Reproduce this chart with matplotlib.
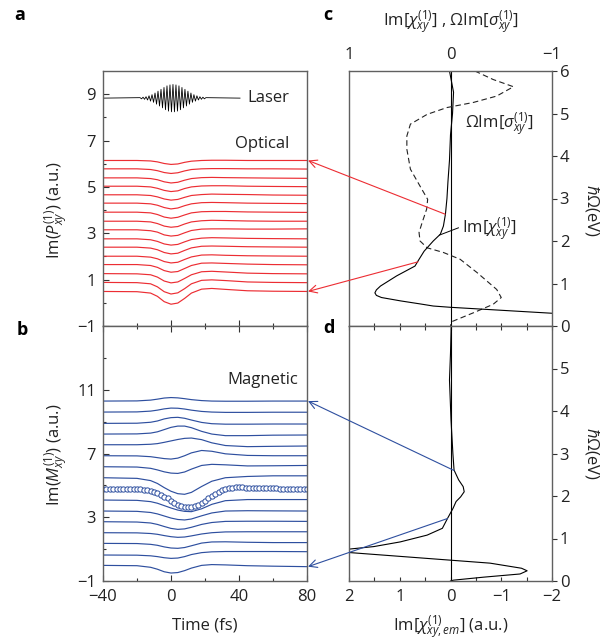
import numpy as np
import matplotlib
matplotlib.use('Agg')
import matplotlib.pyplot as plt
from matplotlib.patches import ConnectionPatch

plt.rcParams['font.family'] = ['Open Sans', 'DejaVu Sans']
plt.rcParams['mathtext.fontset'] = 'custom'
plt.rcParams['mathtext.rm'] = 'Open Sans'
plt.rcParams['mathtext.it'] = 'Open Sans:italic'
plt.rcParams['mathtext.bf'] = 'Open Sans:bold'

# ---- time traces (panels a, b) ----
t_grid = [-40, -20, -12, -8, -4, 0, 4, 8, 12, 18, 24, 32, 45, 60, 80]

red_base = [6.14, 5.78, 5.39, 5.03, 4.66, 4.30, 3.91, 3.52, 3.15, 2.76, 2.40, 2.01, 1.65, 1.26, 0.88, 0.49]
red_offsets = [
    [0, 0, -0.02, -0.06, -0.13, -0.17, -0.15, -0.08, -0.03, 0.00, 0.01, 0.01, 0.00, 0.00, 0.00],
    [0, 0, -0.03, -0.08, -0.16, -0.20, -0.17, -0.09, -0.03, 0.00, 0.01, 0.01, 0.00, 0.00, -0.01],
    [0, 0, -0.03, -0.08, -0.17, -0.22, -0.19, -0.10, -0.03, 0.01, 0.02, 0.01, 0.00, -0.01, -0.02],
    [0, 0, -0.03, -0.09, -0.18, -0.23, -0.20, -0.10, -0.03, 0.01, 0.02, 0.02, 0.00, -0.01, -0.02],
    [0, 0, -0.03, -0.09, -0.18, -0.23, -0.20, -0.11, -0.03, 0.01, 0.03, 0.02, 0.01, -0.01, -0.02],
    [0, 0, -0.03, -0.09, -0.19, -0.25, -0.21, -0.11, -0.03, 0.02, 0.03, 0.02, 0.00, -0.01, -0.02],
    [0, 0, -0.03, -0.10, -0.21, -0.26, -0.22, -0.12, -0.03, 0.02, 0.03, 0.03, 0.01, 0.00, -0.01],
    [0, 0, -0.03, -0.10, -0.21, -0.26, -0.23, -0.12, -0.03, 0.02, 0.04, 0.03, 0.01, 0.00, 0.00],
    [0, 0, -0.04, -0.10, -0.22, -0.27, -0.24, -0.13, -0.03, 0.03, 0.04, 0.04, 0.03, 0.03, 0.04],
    [0, 0, -0.04, -0.11, -0.22, -0.27, -0.24, -0.13, -0.03, 0.03, 0.05, 0.04, 0.02, 0.01, 0.00],
    [0, 0, -0.04, -0.11, -0.23, -0.29, -0.26, -0.14, -0.03, 0.04, 0.05, 0.04, 0.02, 0.01, 0.00],
    [0, 0, -0.04, -0.11, -0.23, -0.29, -0.26, -0.14, -0.03, 0.05, 0.06, 0.04, 0.02, 0.01, 0.00],
    [0, 0, -0.04, -0.12, -0.26, -0.33, -0.30, -0.17, -0.04, 0.06, 0.07, 0.05, 0.02, 0.00, -0.01],
    [0, -0.01, -0.05, -0.15, -0.32, -0.40, -0.36, -0.21, -0.05, 0.08, 0.10, 0.07, 0.02, 0.00, -0.01],
    [0, -0.01, -0.06, -0.19, -0.40, -0.50, -0.45, -0.27, -0.06, 0.09, 0.11, 0.08, 0.02, 0.00, -0.01],
    [0, -0.01, -0.07, -0.21, -0.44, -0.55, -0.50, -0.30, -0.07, 0.10, 0.13, 0.09, 0.03, 0.01, 0.00],
]

blue_base = [10.29, 9.60, 8.89, 8.22, 7.55, 6.86, 6.17, 5.48, 4.08, 3.39, 2.72, 2.03, 1.36, 0.63, -0.02]
blue_offsets = [
    [0, 0.01, 0.06, 0.12, 0.19, 0.22, 0.20, 0.15, 0.09, 0.03, 0.00, -0.01, -0.01, 0.00, 0.00],
    [0, 0.01, 0.06, 0.12, 0.20, 0.25, 0.24, 0.19, 0.12, 0.04, 0.00, -0.02, -0.02, -0.01, -0.01],
    [0, 0.01, 0.07, 0.15, 0.28, 0.36, 0.38, 0.32, 0.21, 0.06, -0.02, -0.05, -0.05, -0.04, -0.04],
    [0, 0.01, 0.06, 0.14, 0.28, 0.42, 0.50, 0.50, 0.40, 0.17, 0.00, -0.10, -0.10, -0.07, -0.06],
    [0, 0.00, 0.03, 0.07, 0.15, 0.24, 0.33, 0.40, 0.42, 0.32, 0.12, -0.05, -0.12, -0.10, -0.08],
    [0, -0.01, -0.06, -0.12, -0.18, -0.21, -0.15, 0.00, 0.18, 0.33, 0.28, 0.12, 0.02, 0.00, 0.00],
    [0, -0.02, -0.10, -0.20, -0.32, -0.40, -0.42, -0.33, -0.15, 0.08, 0.15, 0.12, 0.05, 0.06, 0.08],
    [0, -0.04, -0.18, -0.36, -0.62, -0.85, -1.00, -1.04, -0.92, -0.55, -0.22, 0.00, 0.08, 0.12, 0.12],
    [0, -0.02, -0.10, -0.20, -0.35, -0.50, -0.63, -0.71, -0.73, -0.55, -0.27, -0.04, 0.03, 0.03, 0.03],
    [0, -0.02, -0.09, -0.18, -0.31, -0.44, -0.53, -0.56, -0.50, -0.30, -0.12, 0.00, 0.02, 0.01, 0.00],
    [0, -0.02, -0.08, -0.17, -0.30, -0.42, -0.48, -0.45, -0.35, -0.17, -0.05, 0.02, 0.03, 0.03, 0.02],
    [0, -0.01, -0.05, -0.10, -0.18, -0.25, -0.29, -0.27, -0.20, -0.08, 0.00, 0.05, 0.06, 0.06, 0.06],
    [0, -0.01, -0.06, -0.12, -0.22, -0.29, -0.31, -0.26, -0.15, 0.02, 0.09, 0.10, 0.07, 0.05, 0.05],
    [0, -0.01, -0.05, -0.10, -0.17, -0.21, -0.19, -0.10, 0.03, 0.15, 0.20, 0.22, 0.22, 0.22, 0.21],
    [0, -0.02, -0.12, -0.24, -0.40, -0.48, -0.45, -0.33, -0.17, 0.00, 0.05, 0.03, -0.02, -0.05, -0.08],
]

# open-circle trace, every 2 fs from -40 to 80
circ_t = list(range(-40, 81, 2))
circ_y = [4.77] * 11 + [
    4.76, 4.74, 4.71, 4.66, 4.59, 4.51, 4.41, 4.30, 4.18, 4.05, 3.92, 3.80, 3.70, 3.64, 3.62,
    3.64, 3.70, 3.79, 3.91, 4.05, 4.20, 4.35, 4.49, 4.61, 4.71, 4.78, 4.83, 4.86, 4.87, 4.87,
    4.87, 4.86, 4.85, 4.84, 4.83] + [4.82, 4.82, 4.82, 4.81, 4.81, 4.81, 4.80, 4.80, 4.80,
    4.80, 4.80, 4.80, 4.80, 4.80, 4.80]

# laser pulse: signed peak amplitudes, one per half cycle
laser_base = 8.83
laser_peaks = [0.02, -0.03, 0.04, -0.05, 0.06, -0.08, 0.10, -0.13, 0.15, -0.18, 0.22, -0.26,
               0.30, -0.34, 0.38, -0.42, 0.46, -0.50, 0.53, -0.56, 0.57, -0.59, 0.59, -0.59,
               0.57, -0.56, 0.53, -0.50, 0.46, -0.42, 0.38, -0.34, 0.30, -0.26, 0.22, -0.18,
               0.15, -0.13, 0.10, -0.08, 0.06, -0.05, 0.04, -0.03, 0.02]
laser_start, laser_half_period = -18.2, 0.88

# ---- spectra (panels c, d) ----
chi_c_ev = [6.0, 5.5, 5.0, 4.5, 3.9, 3.4, 3.0, 2.63, 2.35, 2.16, 2.0, 1.76, 1.53, 1.41, 1.18,
            0.94, 0.85, 0.78, 0.72, 0.67, 0.59, 0.52, 0.47, 0.44, 0.37, 0.30, 0.20]
chi_c_val = [0.01, -0.03, -0.02, 0.0, 0.01, 0.025, 0.035, 0.05, 0.07, 0.10, 0.17, 0.26, 0.32, 0.35,
             0.53, 0.69, 0.73, 0.745, 0.73, 0.68, 0.49, 0.30, 0.17, 0.0, -0.5, -1.0, -1.7]

sig_c_ev = [6.0, 5.8, 5.63, 5.41, 5.26, 5.14, 4.98, 4.75, 4.47, 4.16, 3.69, 3.29, 2.98, 2.75,
            2.43, 2.2, 2.0, 1.84, 1.73, 1.57, 1.26, 0.86, 0.67, 0.51, 0.31, 0.1, 0.0]
sig_c_val = [-0.24, -0.42, -0.62, -0.455, -0.225, 0.035, 0.23, 0.395, 0.43, 0.43, 0.395, 0.30,
             0.225, 0.235, 0.28, 0.31, 0.30, 0.23, 0.07, -0.095, -0.26, -0.455, -0.50, -0.42,
             -0.225, -0.01, 0.0]

chi_d_ev = [6.0, 5.36, 4.73, 3.79, 3.0, 2.61, 2.38, 2.22, 2.10, 1.98, 1.87, 1.71, 1.47, 1.24,
            1.08, 0.92, 0.81, 0.75, 0.71, 0.67, 0.58, 0.49, 0.42, 0.30, 0.24, 0.165, 0.09, 0.02, 0.0]
chi_d_val = [-0.014, 0.0, 0.02, -0.01, -0.047, -0.07, -0.16, -0.25, -0.27, -0.2, -0.11, -0.05,
             0.06, 0.16, 0.46, 0.99, 1.51, 2.0, 2.6, 2.0, 1.0, 0.0, -0.78, -1.4, -1.51, -1.37,
             -0.65, -0.06, 0.0]

RED = '#ec2d33'
BLUE = '#2e4f9f'
SPINE = '#606060'

fig = plt.figure(figsize=(6.14, 6.40), dpi=100)
W, H = 614, 640


def box(l, t, r, b):
    return [l / W, 1 - b / H, (r - l) / W, (b - t) / H]


ax_a = fig.add_axes(box(103, 71, 307, 326))
ax_b = fig.add_axes(box(103, 326, 307, 581))
ax_c = fig.add_axes(box(349, 71, 552, 326))
ax_d = fig.add_axes(box(349, 326, 552, 581))

for ax in (ax_a, ax_b, ax_c, ax_d):
    for s in ax.spines.values():
        s.set_color(SPINE)
        s.set_linewidth(1.0)
    ax.tick_params(which='both', color='#333333', width=0.8, labelsize=12,
                   labelcolor='#222222')

# panel a
ax_a.plot([-40] + [laser_start + laser_half_period * k for k in range(len(laser_peaks))] + [40.6],
          [laser_base] + [laser_base + p for p in laser_peaks] + [laser_base],
          color='black', lw=0.6)
for b0, off in zip(red_base, red_offsets):
    ax_a.plot(t_grid, [b0 + o for o in off], color=RED, lw=0.85)
ax_a.set_xlim(-40, 80)
ax_a.set_ylim(-1, 10)
ax_a.set_yticks([-1, 1, 3, 5, 7, 9])
ax_a.set_yticks([0, 2, 4, 6, 8], minor=True)
ax_a.set_yticklabels(['\u22121', '1', '3', '5', '7', '9'])
ax_a.set_xticks([-40, 0, 40, 80])
ax_a.set_xticks([-20, 20, 60], minor=True)
ax_a.tick_params(axis='x', which='both', direction='in', labelbottom=False)
ax_a.tick_params(axis='y', which='both', direction='in', pad=5)
ax_a.tick_params(which='major', length=4.5)
ax_a.tick_params(which='minor', length=2.5)
ax_a.text(45, 8.85, 'Laser', fontsize=12, va='center', ha='left', color='#222222')
ax_a.text(37.6, 6.83, 'Optical', fontsize=12, va='center', ha='left', color='#222222')

# panel b
for b0, off in zip(blue_base, blue_offsets):
    ax_b.plot(t_grid, [b0 + o for o in off], color=BLUE, lw=0.85)
ax_b.plot(circ_t, circ_y, ls='none', marker='o', ms=3.8, mfc='white', mec=BLUE, mew=0.7)
ax_b.set_xlim(-40, 80)
ax_b.set_ylim(-1, 15)
ax_b.set_yticks([-1, 3, 7, 11])
ax_b.set_yticks([1, 5, 9, 13], minor=True)
ax_b.set_yticklabels(['\u22121', '3', '7', '11'])
ax_b.set_xticks([-40, 0, 40, 80])
ax_b.set_xticks([-20, 20, 60], minor=True)
ax_b.set_xticklabels(['\u221240', '0', '40', '80'])
ax_b.tick_params(axis='x', which='both', direction='in', top=True, pad=6)
ax_b.tick_params(axis='y', which='both', direction='in', pad=5)
ax_b.tick_params(which='major', length=4.5)
ax_b.tick_params(which='minor', length=2.5)
ax_b.text(33, 11.6, 'Magnetic', fontsize=12, va='center', ha='left', color='#222222')

# panel c
ax_c.axvline(0, color='black', lw=0.8)
ax_c.plot(sig_c_val, sig_c_ev, color='#222222', lw=0.8, dashes=(5, 3))
ax_c.plot(chi_c_val, chi_c_ev, color='black', lw=0.8)
ax_c.set_xlim(1, -1)
ax_c.set_ylim(0, 6)
ax_c.xaxis.tick_top()
ax_c.set_xticks([1, 0, -1])
ax_c.set_xticklabels(['1', '0', '\u22121'])
ax_c.tick_params(axis='x', which='major', top=True, length=0, pad=6)
ax_c.set_xticks([0.75, 0.5, 0.25, -0.25, -0.5, -0.75], minor=True)
ax_c.tick_params(axis='x', which='minor', bottom=True, top=False, direction='in', length=2.5)
ax_c.yaxis.tick_right()
ax_c.set_yticks([0, 1, 2, 3, 4, 5, 6])
ax_c.tick_params(axis='y', direction='out', length=3.5, pad=2)
ax_c.text(-0.14, 4.75, r'$\mathit{\Omega}$Im[$\sigma_{xy}^{(1)}$]', fontsize=12,
          va='center', ha='left', color='#222222')
ax_c.text(-0.11, 2.27, r'Im[$\chi_{xy}^{(1)}$]', fontsize=12, va='center', ha='left',
          color='#222222')
ax_c.plot([0.108, -0.078], [2.14, 2.31], color='black', lw=0.7)

# panel d
ax_d.axvline(0, color='black', lw=0.8)
ax_d.plot(chi_d_val, chi_d_ev, color='black', lw=0.8)
ax_d.set_xlim(2, -2)
ax_d.set_ylim(0, 6)
ax_d.set_xticks([2, 1, 0, -1, -2])
ax_d.set_xticklabels(['2', '1', '0', '\u22121', '\u22122'])
ax_d.set_xticks([1.5, 0.5, -0.5, -1.5], minor=True)
ax_d.tick_params(axis='x', which='both', direction='in', top=True, pad=6)
ax_d.tick_params(axis='x', which='major', length=3)
ax_d.tick_params(axis='x', which='minor', length=3)
ax_d.yaxis.tick_right()
ax_d.set_yticks([0, 1, 2, 3, 4, 5])
ax_d.tick_params(axis='y', direction='out', length=3.5, pad=2)

# arrows linking spectra to traces
for (xs, ys), (xe, ye), src, dst, col in [
        ((0.052, 2.63), (80.6, 6.14), ax_c, ax_a, RED),
        ((0.32, 1.51), (80.6, 0.49), ax_c, ax_a, RED),
        ((-0.07, 2.6), (80.6, 10.29), ax_d, ax_b, BLUE),
        ((0.06, 1.47), (80.6, -0.10), ax_d, ax_b, BLUE)]:
    cp = ConnectionPatch(xyA=(xs, ys), coordsA=src.transData, xyB=(xe, ye),
                         coordsB=dst.transData, arrowstyle='->', color=col, lw=0.8,
                         mutation_scale=14, shrinkA=0, shrinkB=0)
    fig.add_artist(cp)

# labels
fig.text(56 / W, 1 - 210 / H, r'Im($P_{xy}^{(1)}$) (a.u.)', rotation=90, fontsize=12,
         ha='center', va='center', color='#222222')
fig.text(56 / W, 1 - 455 / H, r'Im($M_{xy}^{(1)}$) (a.u.)', rotation=90, fontsize=12,
         ha='center', va='center', color='#222222')
fig.text(205 / W, 1 - 625 / H, 'Time (fs)', fontsize=12, ha='center', va='center',
         color='#222222')
fig.text(451 / W, 1 - 627 / H, r'Im[$\chi_{xy,em}^{(1)}$] (a.u.)', fontsize=12,
         ha='center', va='center', color='#222222')
fig.text(451 / W, 1 - 22 / H, r'Im[$\chi_{xy}^{(1)}$] , $\mathit{\Omega}$Im[$\sigma_{xy}^{(1)}$]',
         fontsize=12, ha='center', va='center', color='#222222')
for yc in (210, 453):
    fig.text(592 / W, 1 - yc / H, r'$\hbar\mathit{\Omega}$(eV)', rotation=270, fontsize=12,
             ha='center', va='center', color='#222222')

for letter, x, y in [('a', 20, 15), ('b', 22, 330), ('c', 328, 15), ('d', 329, 328)]:
    fig.text(x / W, 1 - y / H, letter, fontsize=13, fontweight='bold', ha='center',
             va='center')

fig.savefig('out.png', dpi=100)
